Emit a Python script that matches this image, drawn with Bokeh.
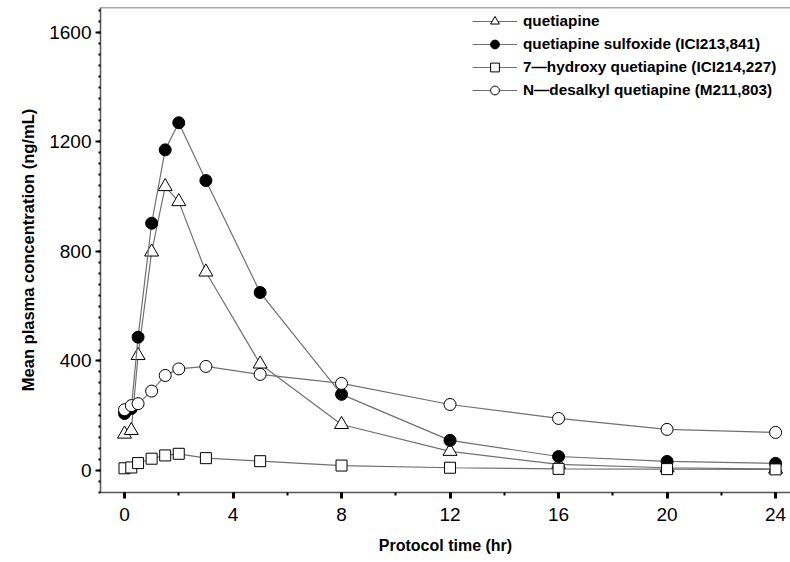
from bokeh.plotting import figure
from bokeh.models import Range1d, SingleIntervalTicker, Span, Legend, LegendItem
from bokeh.embed import file_html
from bokeh.resources import INLINE

# ---- data ----
time_hr = [0, 0.25, 0.5, 1, 1.5, 2, 3, 5, 8, 12, 16, 20, 24]
quetiapine = [133, 146, 420, 798, 1037, 982, 725, 389, 168, 70, 22, 10, 5]
sulfoxide = [208, 226, 487, 903, 1171, 1270, 1059, 650, 278, 110, 51, 33, 26]
hydroxy = [8, 11, 27, 43, 55, 61, 45, 34, 18, 10, 6, 5, 4]
desalkyl = [222, 237, 244, 290, 347, 371, 380, 351, 318, 241, 190, 150, 139]

series_labels = [
    "quetiapine",
    "quetiapine sulfoxide (ICI213,841)",
    "7\u2014hydroxy quetiapine (ICI214,227)",
    "N\u2014desalkyl quetiapine (M211,803)",
]
x_label = "Protocol time (hr)"
y_label = "Mean plasma concentration (ng/mL)"

X_MIN, X_MAX = -0.885, 24.55
Y_MIN, Y_MAX = -80.4, 1691.0

W, H = 790, 562
BL, BT, BB = 100, 7, 70

p = figure(
    width=W, height=H,
    x_range=Range1d(X_MIN, X_MAX), y_range=Range1d(Y_MIN, Y_MAX),
    output_backend="svg", toolbar_location=None,
    min_border_left=BL, min_border_right=0, min_border_top=BT, min_border_bottom=BB,
    background_fill_color="white", border_fill_color="white",
)
p.outline_line_color = None
p.grid.visible = False

TICK_FONT = "Liberation Sans"
for ax in (p.xaxis[0], p.yaxis[0]):
    ax.axis_line_color = "#555555"
    ax.axis_line_width = 1.5
    ax.major_tick_line_color = "black"
    ax.minor_tick_line_color = "black"
    ax.major_tick_in = 0
    ax.minor_tick_in = 0
    ax.major_label_text_font = TICK_FONT
    ax.major_label_text_font_size = "19px"
    ax.major_label_text_color = "black"
    ax.axis_label_text_font = TICK_FONT
    ax.axis_label_text_font_style = "bold"
    ax.axis_label_text_color = "black"

p.xaxis.ticker = SingleIntervalTicker(interval=4, num_minor_ticks=2)
p.xaxis.major_tick_out = 6
p.xaxis.major_tick_line_width = 3
p.xaxis.minor_tick_out = 3
p.xaxis.minor_tick_line_width = 2
p.xaxis.major_label_standoff = 9
p.xaxis.axis_label = x_label
p.xaxis.axis_label_text_font_size = "16px"
p.xaxis.axis_label_standoff = 13

p.yaxis.ticker = SingleIntervalTicker(interval=400, num_minor_ticks=10)
p.yaxis.major_tick_out = 5
p.yaxis.major_tick_line_width = 2
p.yaxis.minor_tick_out = 2
p.yaxis.minor_tick_line_width = 2
p.yaxis.major_label_standoff = 4
p.yaxis.axis_label = y_label
p.yaxis.axis_label_text_font_size = "16.5px"
p.yaxis.axis_label_standoff = 9

# top frame line
p.add_layout(Span(location=Y_MAX, dimension="width", line_color="#555555", line_width=1.5))

LINE_COLOR = "#707070"
styles = [
    (quetiapine, "triangle", "white", 14),
    (sulfoxide, "circle", "black", 12),
    (hydroxy, "square", "white", 11),
    (desalkyl, "circle", "white", 12),
]

items = []
for (vals, marker, fill, size), lab in zip(styles, series_labels):
    ln = p.line(time_hr, vals, line_color=LINE_COLOR, line_width=1.2)
    sc = p.scatter(time_hr, vals, marker=marker, size=size, fill_color=fill,
                   line_color="black", line_width=1)
    items.append(LegendItem(label=lab, renderers=[ln, sc]))

frame_h = H - BT - BB
row_h = 22
legend = Legend(
    items=items, location=(372, frame_h - 6 - row_h * len(items)),
    glyph_width=45, glyph_height=row_h, label_height=row_h, spacing=1,
    label_standoff=6, padding=0, margin=0,
    label_text_font=TICK_FONT, label_text_font_size="15.3px",
    label_text_font_style="bold", label_text_color="black",
    background_fill_alpha=0, border_line_color=None,
)
p.add_layout(legend, "center")

open("out.html", "w").write(file_html(p, INLINE))
